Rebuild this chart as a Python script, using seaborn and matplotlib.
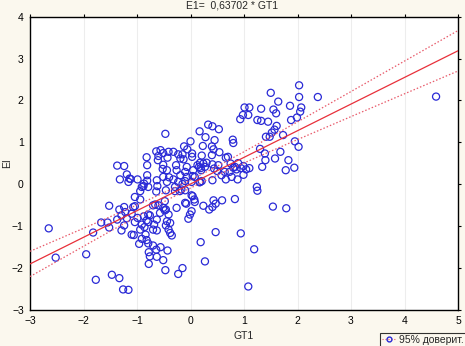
import numpy as np
import pandas as pd
import matplotlib
matplotlib.use("Agg")
import matplotlib.pyplot as plt
from matplotlib.lines import Line2D
import seaborn as sns

# ---- data ----
gt1 = [
    -0.47, 0.00, 0.17, 0.28, 0.33, 0.41, 0.53, 0.79, 0.80, 0.93,
    -0.12, -0.06, 0.03, 0.23, 0.45, 0.40, 0.54, -0.82, -0.81, -0.64,
    -0.56, -0.51, -0.60, -0.61, -0.41, -0.43, -0.32, -0.23, -0.15, -0.19,
    -0.13, 0.03, -0.51, -1.37, -1.24, -1.32, -1.19, -1.12, -0.99, -0.81,
    -0.81, -0.52, -0.44, -0.51, -0.40, -0.27, -0.26, -0.19, -0.10, -0.07,
    0.05, 0.08, -0.32, -0.44, -0.23, 0.02, -0.63, 0.18, 0.24, 0.16,
    0.30, 0.70, 0.83, -0.07,
    2.03, 1.50, 2.03, 1.64, 1.86, 2.07, 2.05, 1.01, 1.10, 1.32,
    1.55, 1.60, 0.98, 1.08, 1.25, 1.32, 1.45, 1.88, 1.99, 1.61,
    1.57, 1.52, 1.48, 1.73, 1.41, 1.95, 2.02, 1.30, 1.39, 1.40,
    1.68, 1.58, 1.83, 1.34, 1.78, 1.94, 0.43, 0.40, 0.21, 0.66,
    0.13, 0.41, 0.52, 0.75, 0.89, 0.99, 0.80, 0.86, 0.94, 1.04,
    1.10, 0.73, 0.64, 0.44, 0.50, 0.27, 0.20, 0.58, 0.41, 0.66,
    0.77, 0.99, 0.17, 0.88, 2.38, 4.59,
    1.24, 1.25, 1.54, 1.79, 0.83, 0.59, 0.43, 0.47, 0.41, 0.35,
    0.24, 0.08, 0.18, 0.47, 0.94, 0.19, 1.19, 0.27, 1.08,
    -2.65, -2.52, -1.95, -1.82, -1.77, -1.47, -1.33, -1.26, -1.16, -1.67,
    -1.55, -1.52, -1.37, -1.52, -1.29, -1.24, -1.33, -1.24, -1.22, -1.19,
    -1.10, -1.06, -1.07, -1.04, -1.10, -0.99, -1.04, -0.94, -0.94, -0.88,
    -1.14, -1.16, -0.87, -0.62, -0.64, -0.46, -0.91, -0.94, -0.86, -0.82,
    -0.79, -0.87, -0.84, -0.91, -0.82, -0.96, -0.79, -0.78, -0.76, -0.78,
    -0.70, -0.64, -0.63, -0.56, -0.51, -0.47, -0.43, -0.70, -0.63, -0.68,
    -0.63, -0.57, -0.66, -0.51, -0.48, -0.44, -0.46, -0.41, -0.38, -0.35,
    -0.38, -0.46, -0.41, -0.26, -0.10, -0.17, -0.23, -0.15, -0.04, -0.01,
    0.02, 0.04, 0.07, -0.10, -0.29, -0.20, 0.04, 0.21, 0.19,
    -1.29, -1.04, -0.91, -0.79, -0.29, -0.10, -0.15, 0.02, -0.70, -0.60,
    -0.08, -0.48, -0.76, -0.79,
]
e1 = [
    1.20, 1.02, 1.26, 1.12, 1.42, 1.38, 1.31, 1.06, 0.98, 1.55,
    0.90, 0.83, 0.73, 0.91, 1.05, 0.90, 0.76, 0.64, 0.45, 0.78,
    0.81, 0.74, 0.67, 0.57, 0.77, 0.63, 0.77, 0.71, 0.71, 0.61,
    0.59, 0.65, 0.46, 0.44, 0.43, 0.11, 0.23, 0.12, 0.11, 0.21,
    0.08, 0.36, 0.33, 0.17, 0.16, 0.45, 0.33, 0.21, 0.29, 0.17,
    0.33, 0.17, 0.11, 0.05, 0.05, 0.05, 0.09, 0.51, 0.49, 0.41,
    0.51, 0.65, 0.41, 0.41,
    2.36, 2.18, 2.08, 1.97, 1.87, 1.83, 1.73, 1.83, 1.83, 1.80,
    1.78, 1.69, 1.65, 1.65, 1.53, 1.51, 1.49, 1.53, 1.59, 1.39,
    1.30, 1.23, 1.13, 1.17, 1.13, 1.02, 0.89, 0.84, 0.73, 0.57,
    0.77, 0.61, 0.57, 0.41, 0.33, 0.39, 0.83, 0.69, 0.68, 0.63,
    0.45, 0.47, 0.45, 0.49, 0.50, 0.43, 0.39, 0.35, 0.38, 0.35,
    0.38, 0.29, 0.29, 0.37, 0.31, 0.41, 0.33, 0.21, 0.09, 0.11,
    0.17, 0.22, 0.04, 0.11, 2.08, 2.09,
    -0.07, -0.16, -0.54, -0.58, -0.36, -0.39, -0.39, -0.47, -0.55, -0.61,
    -0.52, -0.43, 0.05, -1.15, -1.18, -1.39, -1.56, -1.85, -2.45,
    -1.06, -1.76, -1.68, -1.16, -2.29, -2.17, -2.25, -2.52, -2.53, -0.92,
    -0.92, -1.04, -0.85, -0.52, -1.11, -0.99, -0.61, -0.55, -0.67, -0.82,
    -1.21, -1.22, -0.55, -0.53, -0.71, -0.81, -0.31, -0.37, -0.17, -0.05,
    0.13, 0.05, 0.01, -0.05, -0.18, -0.15, -0.97, -1.09, -1.03, -0.87,
    -0.73, -0.77, -1.21, -1.31, -1.34, -1.43, -1.42, -1.63, -1.73, -1.91,
    -1.47, -1.57, -1.74, -1.51, -1.82, -2.06, -1.59, -1.09, -1.11, -0.97,
    -0.85, -0.69, -0.49, -0.57, -0.41, -0.89, -0.99, -1.09, -1.17, -1.23,
    -0.93, -0.61, -0.73, -0.57, -0.45, -0.13, -2.15, -2.01, -0.83, -0.73,
    -0.65, -0.29, -0.37, 0.07, -0.17, -0.17, 0.19, 0.07, 0.38,
    -0.75, -0.91, -0.07, -0.07, -0.07, -0.15, 0.00, -0.27, -0.51, -0.51,
    -0.47, -0.63, -0.75, -0.91,
]
slope = 0.63702
intercept = 0.0
title_text = "E1=  0,63702 * GT1"
x_label = "GT1"
y_label = "EI"
legend_label = "95% доверит."
x_ticks = [-3, -2, -1, 0, 1, 2, 3, 4, 5]
y_ticks = [-3, -2, -1, 0, 1, 2, 3, 4]

df = pd.DataFrame({"GT1": gt1, "E1": e1})

# regression line with given slope, 95% CI band from residuals
xs = np.linspace(-3, 5, 200)
fit = intercept + slope * xs
x_arr = df["GT1"].to_numpy()
resid = df["E1"].to_numpy() - (intercept + slope * x_arr)
n = len(x_arr)
s = np.sqrt(np.sum(resid ** 2) / (n - 2))
sxx = np.sum((x_arr - x_arr.mean()) ** 2)
half = 1.97 * s * np.sqrt(1.0 / n + (xs - x_arr.mean()) ** 2 / sxx)

sns.set_style("white")
plt.rcParams["font.family"] = ["Liberation Sans", "DejaVu Sans"]

bg = "#fbf8ee"
fig = plt.figure(figsize=(4.65, 3.46), dpi=100, facecolor=bg)
ax = fig.add_axes([30 / 465, 1 - 309.5 / 346, 428 / 465, 292.8 / 346])
ax.set_facecolor("white")

for xt in x_ticks[1:-1]:
    ax.axvline(xt, color="#ededed", lw=0.8, zorder=0)

sns.scatterplot(data=df, x="GT1", y="E1", ax=ax, marker="o", s=26,
                facecolors="none", edgecolor="#2a2ad6", linewidth=0.9,
                zorder=3)
sns.lineplot(x=xs, y=fit, ax=ax, color="#e8303a", lw=0.9, zorder=4)
sns.lineplot(x=xs, y=fit + half, ax=ax, color="#e85a6a", lw=0.9,
             linestyle=(0, (1.2, 1.6)), zorder=4)
sns.lineplot(x=xs, y=fit - half, ax=ax, color="#e85a6a", lw=0.9,
             linestyle=(0, (1.2, 1.6)), zorder=4)

ax.set_xlim(-3, 5)
ax.set_ylim(-3, 4)
ax.set_xticks(x_ticks)
ax.set_yticks(y_ticks)
ax.tick_params(axis="both", which="both", direction="out", length=2.5,
               width=0.8, labelsize=7.5, colors="black", pad=2,
               top=True, right=True, labeltop=False, labelright=False)
for sp in ax.spines.values():
    sp.set_visible(True)
    sp.set_color("black")
    sp.set_linewidth(1.0)

ax.set_xlabel(x_label, fontsize=7.5, labelpad=4)
ax.set_ylabel("")
fig.text(7.5 / 465, 1 - 163 / 346, y_label, rotation=90, ha="center",
         va="center", fontsize=7.5)
fig.text(0.5, 0.983, title_text, ha="center", va="center", fontsize=7.5)

handle = Line2D([0], [0], color="#e85a6a", lw=0.8, linestyle=":",
                marker="o", markersize=3.5, markerfacecolor="none",
                markeredgecolor="#2a2ad6")
leg = fig.legend(handles=[handle], labels=[legend_label],
                 loc="lower right", bbox_to_anchor=(1.003, -0.005),
                 fontsize=7.5, frameon=True, fancybox=False,
                 handlelength=1.3, handletextpad=0.3, borderpad=0.25,
                 borderaxespad=0.0)
leg.get_frame().set_edgecolor("black")
leg.get_frame().set_linewidth(0.8)
leg.get_frame().set_facecolor(bg)

if ax.get_legend() is not None:
    ax.get_legend().remove()

fig.savefig("out.png", dpi=100, facecolor=bg)
